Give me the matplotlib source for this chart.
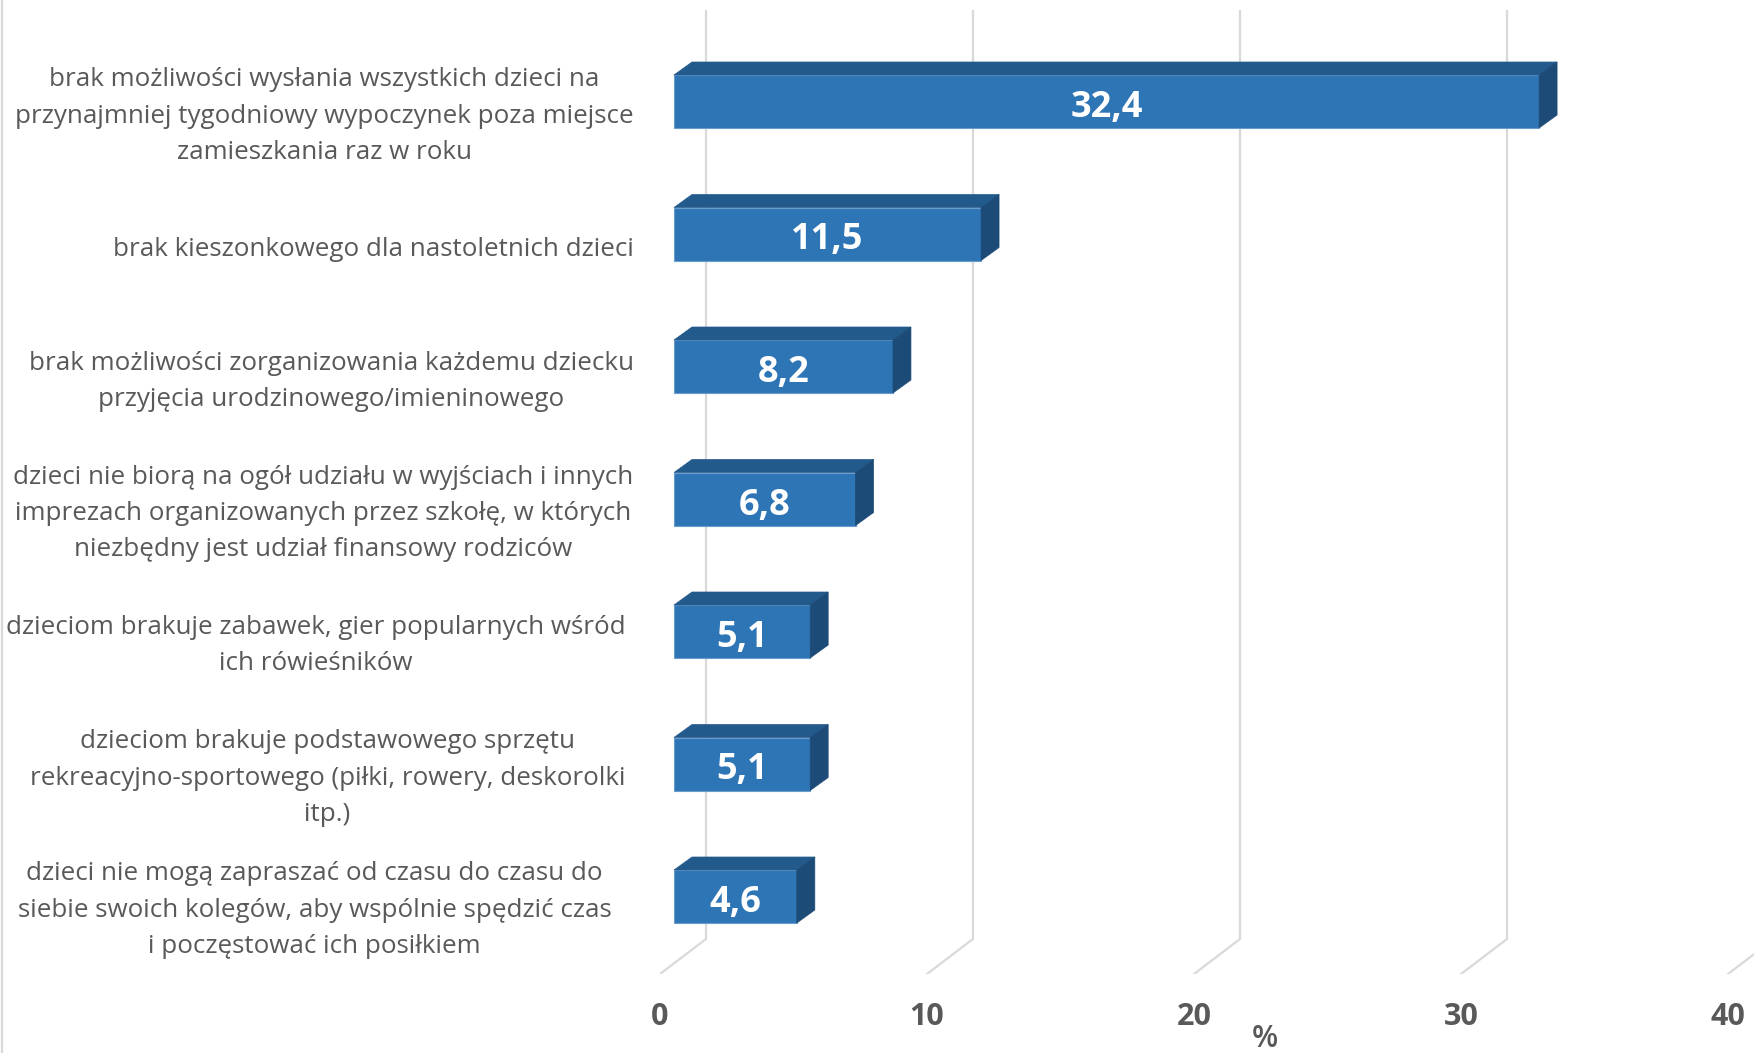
import matplotlib
matplotlib.use("Agg")
import matplotlib.pyplot as plt
from matplotlib.lines import Line2D

W, H = 1754, 1053
categories = [
    "brak możliwości wysłania wszystkich dzieci na\nprzynajmniej tygodniowy wypoczynek poza miejsce\nzamieszkania raz w roku",
    "brak kieszonkowego dla nastoletnich dzieci",
    "brak możliwości zorganizowania każdemu dziecku\nprzyjęcia urodzinowego/imieninowego",
    "dzieci nie biorą na ogół udziału w wyjściach i innych\nimprezach organizowanych przez szkołę, w których\nniezbędny jest udział finansowy rodziców",
    "dzieciom brakuje zabawek, gier popularnych wśród\nich rówieśników",
    "dzieciom brakuje podstawowego sprzętu\nrekreacyjno-sportowego (piłki, rowery, deskorolki\nitp.)",
    "dzieci nie mogą zapraszać od czasu do czasu do\nsiebie swoich kolegów, aby wspólnie spędzić czas\ni poczęstować ich posiłkiem",
]
values = [32.4, 11.5, 8.2, 6.8, 5.1, 5.1, 4.6]
value_labels = ["32,4", "11,5", "8,2", "6,8", "5,1", "5,1", "4,6"]
x_ticks = [0, 10, 20, 30, 40]
label_pads = [19, 19, 19, 19, 25, 25, 35]
label_shift = [6.1, 12.7, 6.2, 6.0, 5.5, 5.5, 4.9]

FONT = "Open Sans"
FRONT, TOP, SIDE, EDGE = "#2E75B6", "#235A8C", "#1D4B77", "#6A9DCB"
GRID, TEXT = "#D9D9D9", "#595959"

PX_PER_UNIT = 26.7
PX_PER_CAT = 132.5
X0_PX, FLOOR_PX = 660, 974
FIRST_BAR_PX = 101.5
ux = 1 / PX_PER_UNIT
uy = 1 / PX_PER_CAT

fig = plt.figure(figsize=(W / 100, H / 100), dpi=100, facecolor="white")
ax = fig.add_axes([X0_PX / W, (H - FLOOR_PX) / H, (W - X0_PX) / W, FLOOR_PX / H])
ax.set_xlim(0, (W - X0_PX) * ux)
ax.set_ylim((FLOOR_PX - FIRST_BAR_PX) * uy, -FIRST_BAR_PX * uy)
for s in ax.spines.values():
    s.set_visible(False)

# grid: back wall + floor
back_dx, back_dy = 46 * ux, 35 * uy
y_floor = (FLOOR_PX - FIRST_BAR_PX) * uy
y_top = (11 - FIRST_BAR_PX) * uy
for v in x_ticks:
    ax.plot([v, v + back_dx, v + back_dx], [y_floor, y_floor - back_dy, y_top],
            color=GRID, lw=1.6, zorder=1, solid_joinstyle="miter")

# bars
off = 14 * ux
bar_h = 53 * uy
dx, dy = 18 * ux, 13 * uy
ys = list(range(len(values)))
ax.barh(ys, values, left=off, height=bar_h, color=FRONT, edgecolor=EDGE, linewidth=0.8, zorder=3)
for y, v, t in zip(ys, values, value_labels):
    t0, b0 = y - bar_h / 2, y + bar_h / 2
    r = off + v
    ax.fill([off, r, r + dx, off + dx], [t0, t0, t0 - dy, t0 - dy], color=TOP, lw=0.5, zorder=3)
    ax.fill([r, r + dx, r + dx, r], [t0, t0 - dy, b0 - dy, b0], color=SIDE, lw=0.5, zorder=3)
    ax.text(off + v / 2, y + 6.5 * uy, t, color="white", fontsize=26, fontweight="bold",
            family=FONT, ha="center", va="center", zorder=4)

# axis text
ax.set_yticks([y + s * uy for y, s in zip(ys, label_shift)])
ax.set_yticklabels(categories, fontsize=18.7, family=FONT, color=TEXT, ha="right",
                   multialignment="center", linespacing=1.59)
ax.tick_params(axis="y", length=0)
for tick, p in zip(ax.yaxis.get_major_ticks(), label_pads):
    tick.set_pad(p)
ax.set_xticks(x_ticks)
ax.set_xticklabels([str(v) for v in x_ticks], fontsize=22, fontweight="bold", family=FONT, color=TEXT)
ax.tick_params(axis="x", length=0, pad=20)
ax.text(1265 / PX_PER_UNIT - X0_PX * ux, (1039 - FIRST_BAR_PX) * uy, "%", fontsize=22, fontweight="semibold",
        family=FONT, color=TEXT, ha="center", va="center", clip_on=False)

fig.add_artist(Line2D([2 / W, 2 / W], [0, 1], color=GRID, lw=1.6))
fig.savefig("out.png", dpi=100)
